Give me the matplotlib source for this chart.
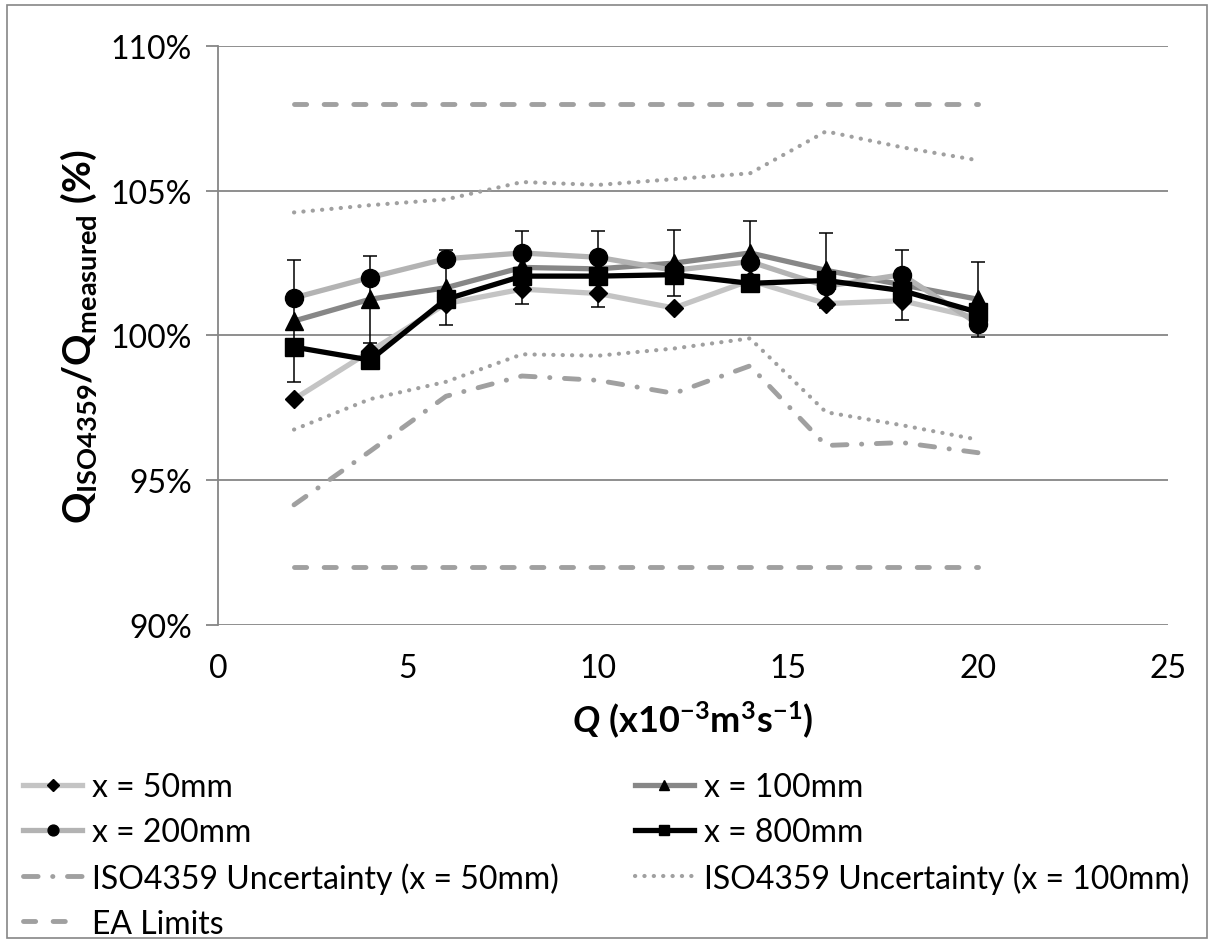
import matplotlib
matplotlib.use('Agg')
import matplotlib.pyplot as plt
from matplotlib.patches import Rectangle
from matplotlib.ticker import PercentFormatter

plt.rcParams['font.family'] = 'Lato'
plt.rcParams['mathtext.fontset'] = 'custom'
plt.rcParams['mathtext.rm'] = 'Lato'
plt.rcParams['mathtext.it'] = 'Lato:italic'
plt.rcParams['mathtext.bf'] = 'Lato:bold'
plt.rcParams['mathtext.bfit'] = 'Lato:bold:italic'

# flow rate (x10^-3 m3/s)
q = [2, 4, 6, 8, 10, 12, 14, 16, 18, 20]
# Q_ISO4359 / Q_measured (%)
r50 = [97.8, 99.45, 101.1, 101.6, 101.45, 100.95, 101.9, 101.1, 101.2, 100.6]
r100 = [100.5, 101.25, 101.65, 102.35, 102.3, 102.5, 102.85, 102.25, 101.75, 101.25]
err100 = [2.1, 1.5, 1.3, 1.25, 1.3, 1.15, 1.1, 1.3, 1.2, 1.3]
r200 = [101.3, 102.0, 102.65, 102.85, 102.7, 102.25, 102.55, 101.7, 102.1, 100.4]
r800 = [99.6, 99.15, 101.25, 102.05, 102.05, 102.1, 101.8, 101.9, 101.55, 100.8]
# uncertainty bands
iso50_lo = [94.15, 96.0, 97.9, 98.6, 98.45, 98.0, 98.95, 96.2, 96.3, 95.95]
iso100_hi = [104.25, 104.5, 104.7, 105.3, 105.2, 105.4, 105.6, 107.05, 106.5, 106.05]
iso100_lo = [96.75, 97.8, 98.4, 99.35, 99.3, 99.55, 99.9, 97.35, 96.9, 96.4]
ea_hi = [108] * 10
ea_lo = [92] * 10

labels = ['x = 50mm', 'x = 100mm', 'x = 200mm', 'x = 800mm',
          'ISO4359 Uncertainty (x = 50mm)', 'ISO4359 Uncertainty (x = 100mm)', 'EA Limits']

fig = plt.figure(figsize=(12.14, 9.45), dpi=100)
ax = fig.add_axes([0.1796, 0.3376, 0.7825, 0.6127])

grid_c = '#868686'
band_c = '#A0A0A0'

# limits and uncertainty lines
dash = dict(color=band_c, lw=3.5, dash_capstyle='round')
l_ea, = ax.plot(q, ea_hi, ls=(0, (2.5, 3.6)), **dash)
ax.plot(q, ea_lo, ls=(0, (2.5, 3.6)), **dash)
l_iso50, = ax.plot(q, iso50_lo, ls=(0, (3.0, 3.0, 0.05, 3.0)), **dash)
dots = dict(color=band_c, lw=3.0, ls=(0, (0.05, 2.2)), dash_capstyle='round')
l_iso100, = ax.plot(q, iso100_hi, **dots)
ax.plot(q, iso100_lo, **dots)

# measured series
lw = 3.8
l50, = ax.plot(q, r50, color='#C4C4C4', lw=lw, marker='D', ms=9.5, mfc='black', mec='black', zorder=3)
l100, = ax.plot(q, r100, color='#878787', lw=lw, marker='^', ms=13, mfc='black', mec='black', zorder=3)
ax.errorbar(q, r100, yerr=err100, fmt='none', ecolor='black', elinewidth=1.1, capsize=5, capthick=1.1, zorder=4)
l200, = ax.plot(q, r200, color='#B3B3B3', lw=lw, marker='o', ms=13, mfc='black', mec='black', zorder=3)
l800, = ax.plot(q, r800, color='black', lw=lw, marker='s', ms=13, mfc='black', mec='black', zorder=5)

ax.set_xlim(0, 25)
ax.set_ylim(90, 110)
ax.set_xticks([0, 5, 10, 15, 20, 25])
ax.set_yticks([90, 95, 100, 105, 110])
ax.yaxis.set_major_formatter(PercentFormatter(xmax=100, decimals=0))
ax.grid(axis='y', color=grid_c, lw=1.3)
ax.set_axisbelow(True)
for s in ['top', 'right', 'bottom']:
    ax.spines[s].set_visible(False)
ax.spines['left'].set_color(grid_c)
ax.spines['left'].set_linewidth(1.3)
ax.tick_params(axis='y', length=9, width=1.3, color=grid_c, labelsize=23, pad=10)
ax.tick_params(axis='x', length=0, labelsize=23, pad=20)

ax.set_xlabel(r'$\mathbfit{Q}\ \mathbf{(x10^{-3}m^{3}s^{-1})}$', fontsize=26, labelpad=12)
ax.set_ylabel(r'$\mathbf{Q_{ISO4359}/Q_{measured}\ (\%)}$', fontsize=28, labelpad=8)

leg_kw = dict(loc='upper left', frameon=False, fontsize=23, handlelength=1.85,
              handletextpad=0.3, labelspacing=0.47, borderpad=0, borderaxespad=0, markerscale=0.6)
fig.legend([l50, l200, l_iso50, l_ea], [labels[0], labels[2], labels[4], labels[6]],
           bbox_to_anchor=(0.019, 0.182), **leg_kw)
fig.legend([l100, l800, l_iso100], [labels[1], labels[3], labels[5]],
           bbox_to_anchor=(0.523, 0.182), **leg_kw)

fig.patches.append(Rectangle((0.006, 0.006), 0.988, 0.988, transform=fig.transFigure,
                             fill=False, ec=grid_c, lw=1.2))

fig.savefig('out.png', dpi=100)
